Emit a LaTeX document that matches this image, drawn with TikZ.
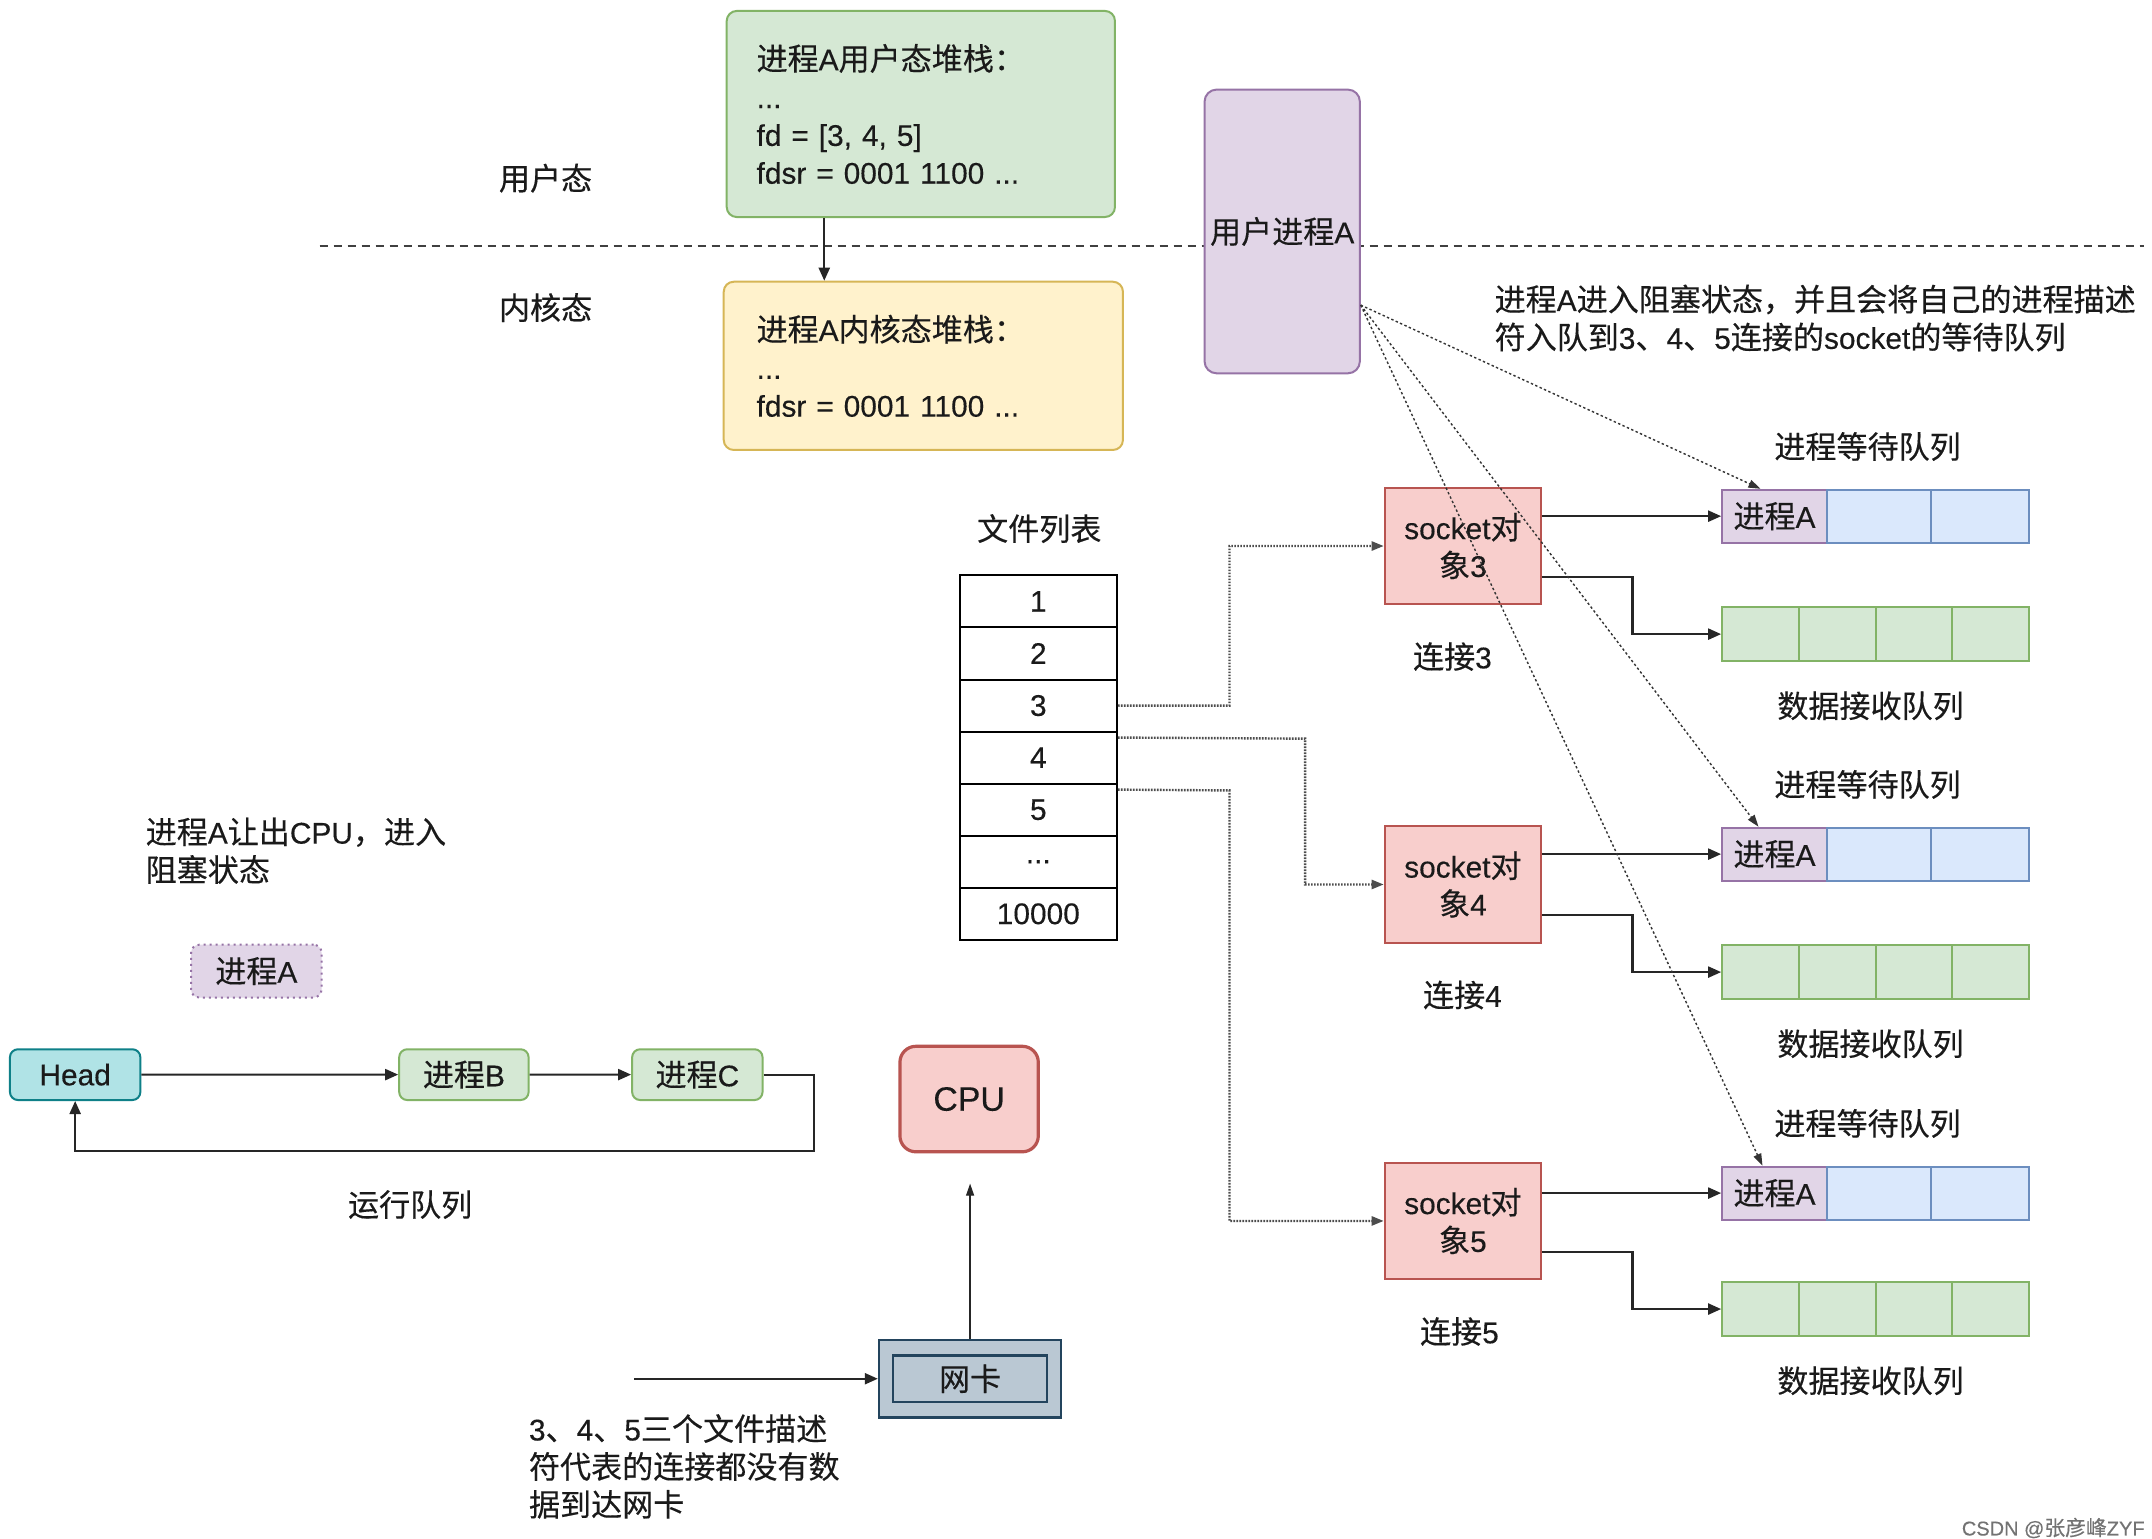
\documentclass[tikz,border=0pt]{standalone}
\usepackage{fontspec}
\setmainfont[FakeBold=0.3]{Liberation Sans}
\newfontfamily\cjkfont[Scale=1.04,FakeBold=0.3]{Noto Sans CJK SC}
\XeTeXinterchartokenstate=1
\chardef\CJKcls=7
\newcount\cjkcc
\def\setcjkrange#1#2{\cjkcc=#1\relax\loop\XeTeXcharclass\cjkcc=\CJKcls\relax\ifnum\cjkcc<#2\relax\advance\cjkcc by 1\relax\repeat}
\setcjkrange{"3000}{"303F}
\setcjkrange{"4E00}{"9FFF}
\setcjkrange{"FF00}{"FFEF}
\XeTeXinterchartoks 0 \CJKcls = {\cjkfont}
\XeTeXinterchartoks 4095 \CJKcls = {\cjkfont}
\XeTeXinterchartoks \CJKcls 0 = {\rmfamily}
\XeTeXinterchartoks \CJKcls 4095 = {\rmfamily}
\usetikzlibrary{arrows.meta,calc}
\definecolor{gfill}{HTML}{D5E8D4}\definecolor{gdraw}{HTML}{82B366}
\definecolor{yfill}{HTML}{FFF2CC}\definecolor{ydraw}{HTML}{D6B656}
\definecolor{pfill}{HTML}{E1D5E7}\definecolor{pdraw}{HTML}{9673A6}
\definecolor{bfill}{HTML}{DAE8FC}\definecolor{bdraw}{HTML}{6C8EBF}
\definecolor{rfill}{HTML}{F8CECC}\definecolor{rdraw}{HTML}{B85450}
\definecolor{tfill}{HTML}{B0E3E6}\definecolor{tdraw}{HTML}{0E8088}
\definecolor{nfill}{HTML}{BAC8D3}\definecolor{ndraw}{HTML}{23445D}
\definecolor{txt}{HTML}{1A1A1A}
\tikzset{
  base/.style={font=\fontsize{15}{19}\selectfont, text=txt, inner sep=0pt},
  lbl/.style={base},
  lbll/.style={base, anchor=west, align=left},
  gbox/.style={base, draw=gdraw, fill=gfill, line width=1pt, rounded corners=5pt},
  ybox/.style={base, draw=ydraw, fill=yfill, line width=1pt, rounded corners=5pt},
  pbox/.style={base, draw=pdraw, fill=pfill, line width=1pt, rounded corners=6pt},
  rbox/.style={base, draw=rdraw, fill=rfill, line width=1pt},
  bcell/.style={base, draw=bdraw, fill=bfill, line width=1pt, minimum height=26.5pt},
  pcell/.style={base, draw=pdraw, fill=pfill, line width=1pt, minimum height=26.5pt},
  gcell/.style={base, draw=gdraw, fill=gfill, line width=1pt, minimum height=27pt, minimum width=38.5pt},
  frow/.style={base, draw=black, fill=white, line width=1pt, minimum width=79pt, minimum height=26.15pt},
  arr/.style={-{Triangle[length=6.5pt,width=5.5pt]}, line width=1.1pt, draw=black!85},
  thinarr/.style={-{Triangle[length=6pt,width=4pt]}, line width=0.6pt, draw=black!85},
  dotarr/.style={-{Triangle[length=6pt,width=4.5pt]}, line width=1.2pt, draw=black!70, dash pattern=on 0.8pt off 0.7pt},
  ptarr/.style={-{Triangle[length=6pt,width=4pt]}, line width=0.7pt, draw=black!80, dash pattern=on 1.2pt off 1.2pt},
}
\begin{document}
\begin{tikzpicture}[x=0.5pt,y=-0.5pt]
\useasboundingbox (0,0) rectangle (2152,1538);
\fill[white] (0,0) rectangle (2152,1538);
\begin{scope}[scale=0.9955, transform shape]
% divider
\coordinate (dl) at (321,247);
\coordinate (dr) at (2154,247);
\draw[line width=1pt, black!75, dash pattern=on 4pt off 3pt] (dl) -- (dr);
% stacks
\node[gbox, minimum width=195pt, minimum height=103.5pt, text width=165pt, align=left] (ustack) at (925,114.5)
  {进程A用户态堆栈：\\...\\fd = [3, 4, 5]\\fdsr = 0001 1100 ...};
\node[ybox, minimum width=200.5pt, minimum height=84.5pt, text width=167.5pt, align=left] (kstack) at (927.5,367.5)
  {进程A内核态堆栈：\\...\\fdsr = 0001 1100 ...};
\draw[arr] (ustack.south -| 828,0) -- (kstack.north -| 828,0);
\node[lbl] (ulab) at (548,179) {用户态};
\node[lbl] (klab) at (548,309) {内核态};
% user process
\node[pbox, minimum width=78pt, minimum height=142.5pt] (uproc) at (1288,232.5) {用户进程A};
\node[lbll] (note) at (1501,319.5) {进程A进入阻塞状态，并且会将自己的进程描述\\符入队到3、4、5连接的socket的等待队列};
% file list
\node[lbl] (flab) at (1044,531) {文件列表};
\foreach \i in {1,2,3,4,5}{
  \node[frow] (r\i) at (1043,{604.15+52.3*(\i-1)}) {\i};
}
\node[frow] (r6) at (1043,865.65) {...};
\node[frow] (r7) at (1043,917.95) {10000};
% sockets and queues
\foreach \k/\sy/\wy/\dy/\cx in {3/548.5/518.5/637/1459, 4/888.5/858/976.5/1469, 5/1226.5/1198.5/1315/1466}{
  \node[rbox, minimum width=78.5pt, minimum height=58.5pt, align=center] (s\k) at (1469.5,\sy) {socket对\\象\k};
  \node[lbl] (c\k) at (\cx,{\sy+111}) {连接\k};
  \node[pcell, minimum width=52.5pt] (w\k a) at (1782.5,\wy) {进程A};
  \node[bcell, minimum width=52.5pt] (w\k b) at (1887.5,\wy) {};
  \node[bcell, minimum width=49pt] (w\k c) at (1989,\wy) {};
  \node[gcell] (d\k a) at (1768.5,\dy) {};
  \node[gcell] (d\k b) at (1845.5,\dy) {};
  \node[gcell] (d\k c) at (1922.5,\dy) {};
  \node[gcell] (d\k d) at (1999.5,\dy) {};
  \node[lbl] (wl\k) at (1876,{\wy-70}) {进程等待队列};
  \node[lbl] (dl\k) at (1879,{\dy+72}) {数据接收队列};
  \draw[arr] (s\k.east |- w\k a.west) -- (w\k a.west);
  \draw[arr] ($(s\k.east)+(0,31)$) -- ++(91,0) |- (d\k a.west);
}
% file -> socket
\draw[dotarr] (r3.east) -- (1235,708.75) |- (s3.west);
\draw[dotarr] ($(r4.north east)+(0,7)$) -- (1311,742) |- (s4.west);
\draw[dotarr] ($(r5.north east)+(0,7)$) -- (1235,794) |- (s5.west);
% run queue
\node[lbll] (blk) at (146,854.5) {进程A让出CPU，进入\\阻塞状态};
\node[pbox, rounded corners=4pt, dotted, minimum width=65.5pt, minimum height=26.5pt] (pa) at (257.5,975.5) {进程A};
\node[base, draw=tdraw, fill=tfill, line width=1pt, rounded corners=4pt, minimum width=65.5pt, minimum height=25.5pt] (head) at (75.5,1079.5) {Head};
\node[gbox, rounded corners=4pt, minimum width=65pt, minimum height=25.5pt] (pb) at (466,1079.5) {进程B};
\node[gbox, rounded corners=4pt, minimum width=65.5pt, minimum height=25.5pt] (pc) at (700.5,1079.5) {进程C};
\draw[arr] (head) -- (pb);
\draw[arr] (pb) -- (pc);
\coordinate (lp) at (818,1156);
\draw[arr] (pc.east) -| (lp) -| (head.south);
\node[lbl] (rq) at (412,1210) {运行队列};
% CPU and NIC
\node[base, draw=rdraw, fill=rfill, line width=1.6pt, rounded corners=8pt, minimum width=69.5pt, minimum height=53pt, font=\fontsize{17}{20}\selectfont] (cpu) at (973.5,1104) {CPU};
\node[base, draw=ndraw, fill=nfill, line width=1.2pt, minimum width=91.5pt, minimum height=39pt] (nico) at (974.5,1385) {};
\node[base, draw=ndraw, fill=nfill, line width=1.2pt, minimum width=77.5pt, minimum height=23.5pt] (nic) at (974.5,1385) {网卡};
\coordinate (nicup) at (974.5,1189);
\draw[thinarr] (nico.north) -- (nicup);
\coordinate (nicin) at (637,1385);
\draw[arr] (nicin) -- (nico.west);
\node[lbll] (nodata) at (531,1473) {3、4、5三个文件描述\\符代表的连接都没有数\\据到达网卡};
% process A -> wait queues
\coordinate (ua) at ($(uproc.east)+(0,74)$);
\draw[ptarr] (ua) -- ($(w3a.north)+(-14,0)$);
\draw[ptarr] (ua) -- ($(w4a.north)+(-16,0)$);
\draw[ptarr] (ua) -- ($(w5a.north)+(-12,0)$);
\end{scope}
\node[base, anchor=east, text=black!55, font=\fontsize{10}{12}\selectfont] (wm) at (2145,1528) {CSDN @张彦峰ZYF};
\end{tikzpicture}
\end{document}
